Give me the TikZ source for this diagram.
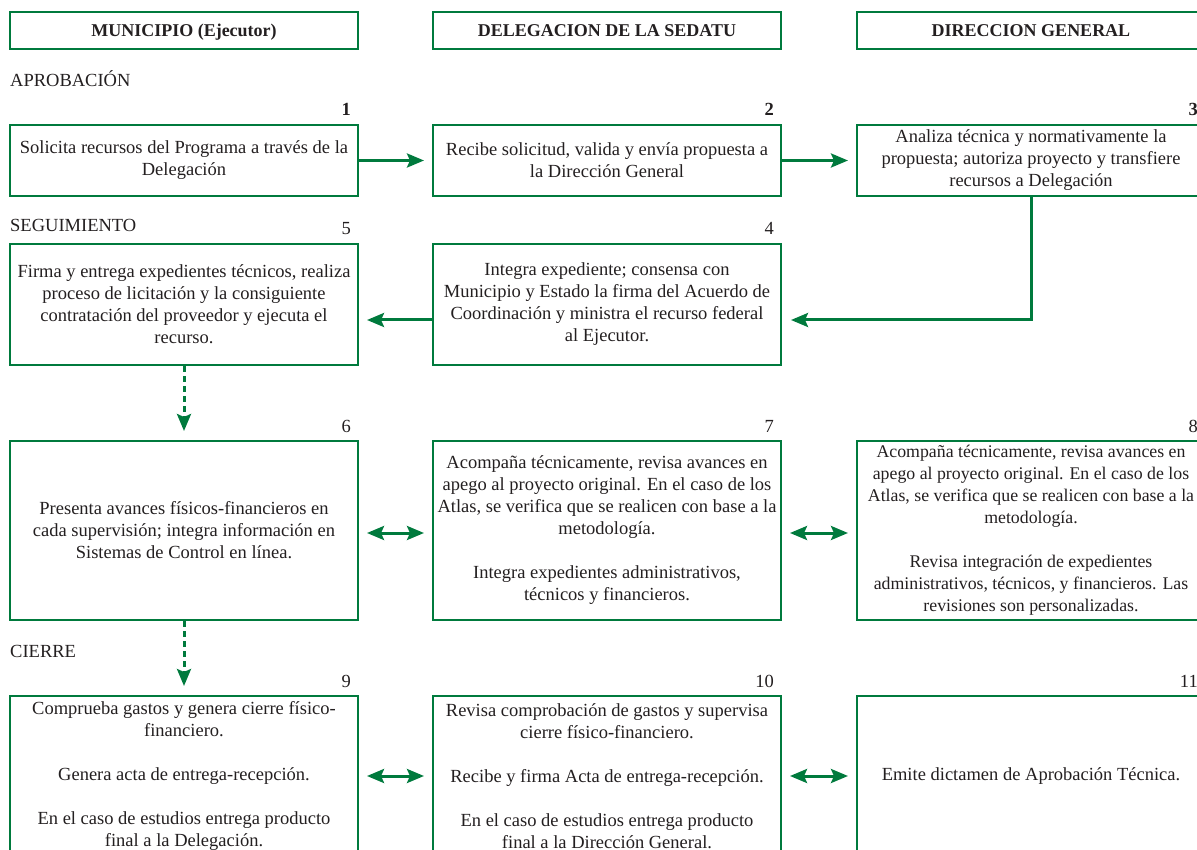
\documentclass[tikz,border=0pt]{standalone}
\usepackage{fontspec}
\setmainfont{Liberation Serif}
\usetikzlibrary{arrows.meta}
\definecolor{sedgreen}{RGB}{0,122,61}
\definecolor{inkgray}{RGB}{35,31,32}

\begin{document}
\begin{tikzpicture}[x=1pt,y=-1pt,
    every node/.style={text=inkgray},
    >={Stealth[length=17pt,width=14pt,inset=3pt]},
    box/.style={draw=sedgreen,line width=2pt,minimum width=348pt,align=center,inner sep=0pt,font=\fontsize{18.5}{22}\selectfont},
    head/.style={box,minimum height=37pt,text height=17pt,text depth=4pt,font=\fontsize{18}{22}\selectfont\bfseries},
    num/.style={anchor=base east,inner sep=0pt,font=\fontsize{18.5}{22}\selectfont},
    sect/.style={anchor=base west,inner sep=0pt,font=\fontsize{18.5}{22}\selectfont},
    flow/.style={draw=sedgreen,line width=3pt,->,shorten >=8pt},
    both/.style={flow,<->,shorten <=8pt},
    dflow/.style={flow,dash pattern=on 6pt off 4pt}]
    \useasboundingbox (0,0) rectangle (1197,850);
    \clip (0,0) rectangle (1197,850);

    % Column heads
    \node[head] (h1) at (184,30.5) {MUNICIPIO (Ejecutor)};
    \node[head] (h2) at (607,30.5) {DELEGACION DE LA SEDATU};
    \node[head] (h3) at (1031,30.5) {DIRECCION GENERAL};

    % Aprobacion
    \node[sect] (s1) at (10,87) {APROBACIÓN};
    \node[box,minimum height=71pt] (b1) at (184,160.5) {Solicita recursos del Programa a través de la\\Delegación};
    \node[box,minimum height=71pt] (b2) at (607,160.5) {Recibe solicitud, valida y envía propuesta a\\la Dirección General};
    \node[box,minimum height=71pt] (b3) at (1031,160.5) {Analiza técnica y normativamente la\\propuesta; autoriza proyecto y transfiere\\recursos a Delegación};
    \node[num] (n1) at ([xshift=-8pt,yshift=8pt]b1.north east) {\textbf{1}};
    \node[num] (n2) at ([xshift=-8pt,yshift=8pt]b2.north east) {\textbf{2}};
    \node[num] (n3) at ([xshift=-8pt,yshift=8pt]b3.north east) {\textbf{3}};

    % Seguimiento
    \node[sect] (s2) at (10,232) {SEGUIMIENTO};
    \node[box,minimum height=121pt] (b5) at (184,304.5) {Firma y entrega expedientes técnicos, realiza\\proceso de licitación y la consiguiente\\contratación del proveedor y ejecuta el\\recurso.};
    \node[box,minimum height=121pt] (b4) at (607,304.5) {Integra expediente; consensa con\\Municipio y Estado la firma del Acuerdo de\\Coordinación y ministra el recurso federal\\al Ejecutor.};
    \node[num] (n5) at ([xshift=-8pt,yshift=8pt]b5.north east) {5};
    \node[num] (n4) at ([xshift=-8pt,yshift=8pt]b4.north east) {4};

    \node[box,minimum height=179pt] (b6) at (184,530.5) {Presenta avances físicos-financieros en\\cada supervisión; integra información en\\Sistemas de Control en línea.};
    \node[box,minimum height=179pt] (b7) at (607,530.5) {Acompaña técnicamente, revisa avances en\\apego al proyecto original. En el caso de los\\Atlas, se verifica que se realicen con base a la\\metodología.\\[22pt]Integra expedientes administrativos,\\técnicos y financieros.};
    \node[box,minimum height=179pt,font=\fontsize{17.8}{22}\selectfont] (b8) at (1031,530.5) {Acompaña técnicamente, revisa avances en\\apego al proyecto original. En el caso de los\\Atlas, se verifica que se realicen con base a la\\metodología.\\[22pt]Revisa integración de expedientes\\administrativos, técnicos, y financieros. Las\\revisiones son personalizadas.};
    \node[num] (n6) at ([xshift=-8pt,yshift=8pt]b6.north east) {6};
    \node[num] (n7) at ([xshift=-8pt,yshift=8pt]b7.north east) {7};
    \node[num] (n8) at ([xshift=-8pt,yshift=8pt]b8.north east) {8};

    % Cierre
    \node[sect] (s3) at (10,657) {CIERRE};
    \node[box,minimum height=160pt] (b9) at (184,776) {Comprueba gastos y genera cierre físico-\\financiero.\\[22pt]Genera acta de entrega-recepción.\\[22pt]En el caso de estudios entrega producto\\final a la Delegación.};
    \node[box,minimum height=160pt] (b10) at (607,776) {Revisa comprobación de gastos y supervisa\\cierre físico-financiero.\\[22pt]Recibe y firma Acta de entrega-recepción.\\[22pt]En el caso de estudios entrega producto\\final a la Dirección General.};
    \node[box,minimum height=160pt] (b11) at (1031,776) {Emite dictamen de Aprobación Técnica.};
    \node[num] (n9) at ([xshift=-8pt,yshift=8pt]b9.north east) {9};
    \node[num] (n10) at ([xshift=-8pt,yshift=8pt]b10.north east) {10};
    \node[num] (n11) at ([xshift=-8pt,yshift=8pt]b11.north east) {11};

    % Connectors
    \coordinate (k4) at (0,320);
    \coordinate (k6) at (0,533);
    \draw[flow] (b1.east) -- (b2.west);
    \draw[flow] (b2.east) -- (b3.west);
    \draw[flow,shorten >=9pt] (b3.south) |- (b4.east |- k4);
    \draw[flow] (b4.west |- k4) -- (b5.east |- k4);
    \draw[dflow,shorten >=9pt] (b5.south) -- (b6.north);
    \draw[both] (b6.east |- k6) -- (b7.west |- k6);
    \draw[both] (b7.east |- k6) -- (b8.west |- k6);
    \draw[dflow,shorten >=9pt] (b6.south) -- (b9.north);
    \draw[both] (b9.east) -- (b10.west);
    \draw[both] (b10.east) -- (b11.west);
\end{tikzpicture}
\end{document}
